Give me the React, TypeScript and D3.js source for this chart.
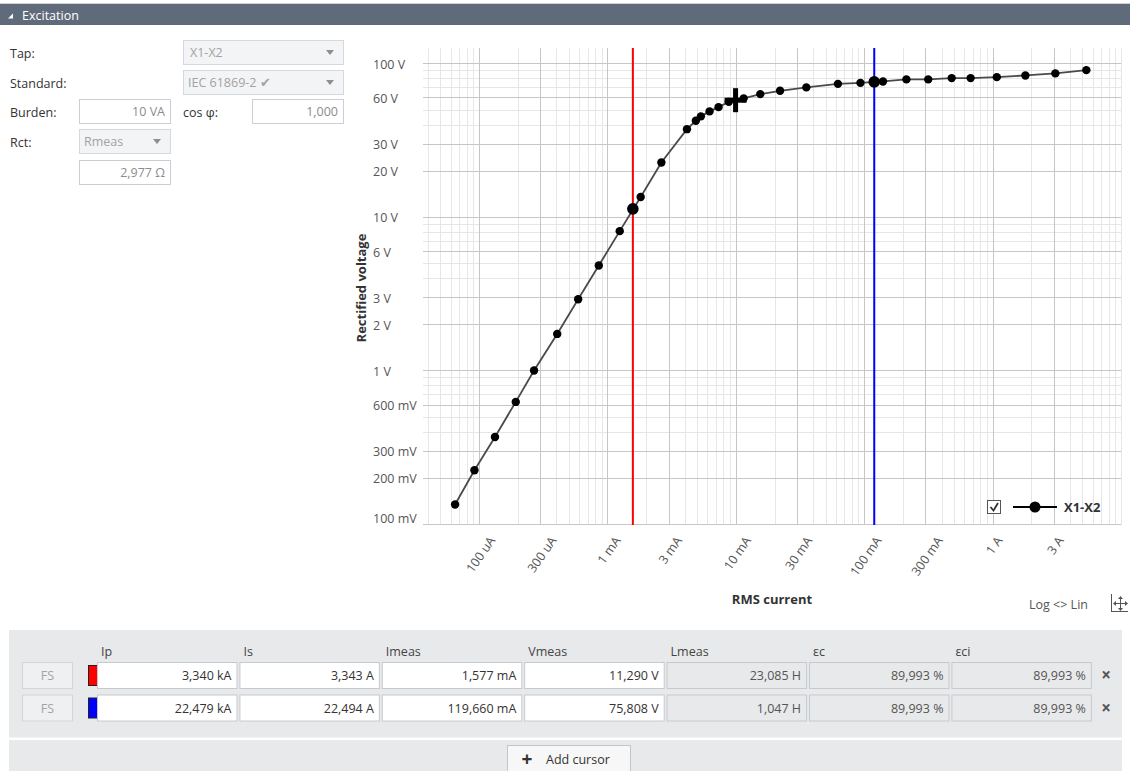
import React, { useEffect, useRef } from 'react';
import * as d3 from 'd3';

// ---- data ----
const currentA = [
  6.5e-5, 9.2e-5, 1.33e-4, 1.93e-4, 2.68e-4, 4.06e-4, 5.91e-4, 8.56e-4, 1.246e-3,
  1.814e-3, 2.63e-3, 4.16e-3, 4.88e-3, 5.34e-3, 6.24e-3, 7.33e-3, 8.81e-3, 1.15e-2,
  1.55e-2, 2.21e-2, 3.54e-2, 6.24e-2, 9.34e-2, 0.140, 0.213, 0.315, 0.480, 0.674,
  1.078, 1.80, 3.08, 5.37,
];
const voltageV = [
  0.134, 0.224, 0.369, 0.624, 1.0, 1.73, 2.91, 4.83, 8.08,
  13.5, 22.6, 37.3, 42.3, 45.2, 48.7, 51.9, 56.2, 59.2,
  63.1, 66.3, 69.8, 73.6, 74.7, 76.3, 78.7, 78.7, 80.2, 80.2,
  81.4, 83.5, 86.1, 90.4,
];
const xTickValues = [1e-4, 3e-4, 1e-3, 3e-3, 1e-2, 3e-2, 1e-1, 3e-1, 1, 3];
const xTickLabels = ['100 uA', '300 uA', '1 mA', '3 mA', '10 mA', '30 mA', '100 mA', '300 mA', '1 A', '3 A'];
const yTickValues = [100, 60, 30, 20, 10, 6, 3, 2, 1, 0.6, 0.3, 0.2, 0.1];
const yTickLabels = ['100 V', '60 V', '30 V', '20 V', '10 V', '6 V', '3 V', '2 V', '1 V', '600 mV', '300 mV', '200 mV', '100 mV'];
const xDomain = [4e-5, 10];
const yDomain = [0.1, 126];
const cursorColors = ['#ff0000', '#0000ff'];
const cursorImeas = [1.577e-3, 0.11966];
const cursorVmeas = [11.29, 75.808];
const kneeCurrent = 0.00995;
const kneeVoltage = 57.6;
const seriesName = 'X1-X2';
const tableHeaders = ['Ip', 'Is', 'Imeas', 'Vmeas', 'Lmeas', 'εc', 'εci'];
const tableRows = [
  ['3,340 kA', '3,343 A', '1,577 mA', '11,290 V', '23,085 H', '89,993 %', '89,993 %'],
  ['22,479 kA', '22,494 A', '119,660 mA', '75,808 V', '1,047 H', '89,993 %', '89,993 %'],
];

const FONT = '"Open Sans", "Noto Sans", sans-serif';
const PLOT = { left: 428, right: 1121, top: 48, bottom: 524 };

function Chart() {
  const ref = useRef<SVGGElement>(null);
  useEffect(() => {
    const g = d3.select(ref.current);
    g.selectAll('*').remove();
    const x = d3.scaleLog().domain(xDomain).range([PLOT.left, PLOT.right]);
    const y = d3.scaleLog().domain(yDomain).range([PLOT.bottom, PLOT.top]);
    const crisp = (v: number) => Math.round(v) + 0.5;

    const xs: { v: number; major: boolean }[] = [];
    for (let n = -5; n <= 1; n++) for (let k = 1; k <= 9; k++) {
      const v = k * Math.pow(10, n);
      if (v >= xDomain[0] * 0.999 && v <= xDomain[1] * 1.001)
        xs.push({ v, major: xTickValues.some((t) => Math.abs(t - v) / v < 1e-6) });
    }
    const ys: { v: number; major: boolean }[] = [];
    for (let n = -1; n <= 2; n++) for (let k = 1; k <= 9; k++) {
      const v = k * Math.pow(10, n);
      if (v >= yDomain[0] * 0.999 && v <= yDomain[1])
        ys.push({ v, major: yTickValues.some((t) => Math.abs(t - v) / v < 1e-6) });
    }
    const grid = g.append('g');
    [false, true].forEach((maj) => {
      grid.selectAll(null).data(xs.filter((d) => d.major === maj)).enter().append('line')
        .attr('x1', (d) => crisp(x(d.v))).attr('x2', (d) => crisp(x(d.v)))
        .attr('y1', PLOT.top).attr('y2', PLOT.bottom + 1)
        .attr('stroke', maj ? '#c6c6c6' : '#e6e6e6').attr('stroke-width', 1);
      grid.selectAll(null).data(ys.filter((d) => d.major === maj)).enter().append('line')
        .attr('x1', PLOT.left - 5).attr('x2', PLOT.right)
        .attr('y1', (d) => crisp(y(d.v))).attr('y2', (d) => crisp(y(d.v)))
        .attr('stroke', maj ? '#c6c6c6' : '#e6e6e6').attr('stroke-width', 1);
    });

    g.append('g').selectAll('text').data(yTickValues).enter().append('text')
      .attr('x', 373).attr('y', (d) => Math.min(y(d) + 1, 518))
      .attr('dominant-baseline', 'central')
      .attr('font-family', FONT).attr('font-size', 12.5).attr('fill', '#555')
      .text((d, i) => yTickLabels[i]);

    const xl = g.append('g');
    xTickValues.forEach((v, i) => {
      const t = xl.append('text')
        .attr('text-anchor', 'middle').attr('dominant-baseline', 'central')
        .attr('font-family', FONT).attr('font-size', 12.5).attr('fill', '#555')
        .text(xTickLabels[i]);
      const w = (t.node() as SVGTextElement).getComputedTextLength();
      const cx = x(v) + 1.5;
      const cy = 538 + 0.41 * w;
      t.attr('transform', `translate(${cx},${cy}) rotate(-55)`);
    });

    cursorImeas.forEach((c, i) => {
      g.append('line').attr('x1', x(c)).attr('x2', x(c)).attr('y1', PLOT.top).attr('y2', PLOT.bottom + 1)
        .attr('stroke', cursorColors[i]).attr('stroke-width', 2);
    });

    const pts = currentA.map((c, i) => [c, voltageV[i]] as [number, number]);
    const line = d3.line<[number, number]>().x((d) => x(d[0])).y((d) => y(d[1]));
    g.append('path').attr('d', line(pts)).attr('fill', 'none').attr('stroke', '#4a4a4a').attr('stroke-width', 1.8);
    g.append('g').selectAll('circle').data(pts).enter().append('circle')
      .attr('cx', (d) => x(d[0])).attr('cy', (d) => y(d[1])).attr('r', 4.2).attr('fill', '#000');

    cursorImeas.forEach((c, i) => {
      g.append('circle').attr('cx', x(c)).attr('cy', y(cursorVmeas[i])).attr('r', 5.8).attr('fill', '#000');
    });

    const kx = x(kneeCurrent), ky = y(kneeVoltage);
    g.append('rect').attr('x', kx - 2.5).attr('y', ky - 12).attr('width', 5).attr('height', 24).attr('fill', '#000');
    g.append('rect').attr('x', kx - 11).attr('y', ky - 2.5).attr('width', 22).attr('height', 5).attr('fill', '#000');

    g.append('text').attr('transform', 'translate(361,288) rotate(-90)')
      .attr('text-anchor', 'middle').attr('dominant-baseline', 'central')
      .attr('font-family', FONT).attr('font-size', 13).attr('font-weight', 'bold').attr('fill', '#333')
      .text('Rectified voltage');
    g.append('text').attr('x', 772).attr('y', 604).attr('text-anchor', 'middle')
      .attr('font-family', FONT).attr('font-size', 13).attr('font-weight', 'bold').attr('fill', '#333')
      .text('RMS current');
  }, []);
  return <g ref={ref} />;
}

function Dropdown({ x, y, w, text, tx }: { x: number; y: number; w: number; text: string; tx: number }) {
  const ax = x + w - 17;
  return (
    <g>
      <rect x={x + 0.5} y={y + 0.5} width={w} height={24} fill="#f3f4f5" stroke="#d5d8dc" />
      <text x={tx} y={y + 17} fontFamily={FONT} fontSize={12.5} fill="#a3a3a3">{text}</text>
      <polygon points={`${ax},${y + 10} ${ax + 8},${y + 10} ${ax + 4},${y + 15}`} fill="#8e8e8e" />
    </g>
  );
}

function Input({ x, y, w, h, text }: { x: number; y: number; w: number; h: number; text: string }) {
  return (
    <g>
      <rect x={x + 0.5} y={y + 0.5} width={w} height={h} fill="#fff" stroke="#cbcfd4" />
      <text x={x + w - 5} y={y + 17} textAnchor="end" fontFamily={FONT} fontSize={12.5} fill="#8c8c8c">{text}</text>
    </g>
  );
}

export default function App() {
  const label = { fontFamily: FONT, fontSize: 12.5, fill: '#333' } as const;
  const colX = (i: number) => 97 + i * 142.4;
  const rowY = [662, 694.5];
  return (
    <svg width={1130} height={771} style={{ position: 'absolute', left: 0, top: 0, background: '#fff' }}>
      <rect x={0} y={3} width={1130} height={1} fill="#cdd1d6" />
      <rect x={0} y={4} width={1130} height={21} fill="#5f6b7b" />
      <polygon points="8,18.5 13,18.5 13,13.5" fill="#fff" />
      <text x={22} y={19.5} fontFamily={FONT} fontSize={12.5} fill="#fff">Excitation</text>

      <text x={10} y={58} {...label}>Tap:</text>
      <text x={10} y={88} {...label}>Standard:</text>
      <text x={10} y={117} {...label}>Burden:</text>
      <text x={10} y={147} {...label}>Rct:</text>
      <text x={183} y={117} {...label}>cos φ:</text>
      <Dropdown x={183} y={40} w={160} text="X1-X2" tx={190} />
      <Dropdown x={183} y={70} w={160} text="IEC 61869-2 ✔" tx={188} />
      <Input x={79} y={99} w={91} h={24} text="10 VA" />
      <Input x={252} y={99} w={91} h={24} text="1,000" />
      <Dropdown x={79} y={129} w={91} text="Rmeas" tx={84} />
      <Input x={79} y={160} w={91} h={24} text="2,977 Ω" />

      <Chart />

      <rect x={987.5} y={500.5} width={13} height={13} fill="#fff" stroke="#555" />
      <polyline points="990.5,507 993.5,510.5 998,503" fill="none" stroke="#333" strokeWidth={1.8} />
      <line x1={1013} x2={1057} y1={507} y2={507} stroke="#000" strokeWidth={2} />
      <circle cx={1035} cy={507} r={5.5} fill="#000" />
      <text x={1064} y={511.5} fontFamily={FONT} fontSize={13} fontWeight="bold" fill="#333">{seriesName}</text>

      <text x={1029} y={609} fontFamily={FONT} fontSize={12.5} fill="#555">{'Log <> Lin'}</text>
      <line x1={1111.5} x2={1111.5} y1={594} y2={612} stroke="#555" strokeWidth={1} />
      <line x1={1111} x2={1128} y1={611.5} y2={611.5} stroke="#555" strokeWidth={1} />
      <line x1={1120.5} x2={1120.5} y1={597} y2={609} stroke="#555" strokeWidth={1} />
      <line x1={1114} x2={1127} y1={603.5} y2={603.5} stroke="#555" strokeWidth={1} />
      <polygon points="1118,599 1123,599 1120.5,596" fill="#555" />
      <polygon points="1118,608 1123,608 1120.5,611" fill="#555" />
      <polygon points="1116,601 1116,606 1113,603.5" fill="#555" />
      <polygon points="1125,601 1125,606 1128,603.5" fill="#555" />

      <rect x={9} y={630} width={1113} height={107.5} fill="#e8e9eb" />
      <rect x={9} y={740} width={1113} height={31} fill="#e8e9eb" />
      {tableHeaders.map((h, i) => (
        <text key={h} x={colX(i) + 4} y={655.5} fontFamily={FONT} fontSize={12.5} fill="#444">{h}</text>
      ))}
      {tableRows.map((row, r) => (
        <g key={r}>
          <rect x={22.5} y={rowY[r] + 0.5} width={50} height={26} fill="#eff0f1" stroke="#d2d5d9" />
          <text x={47.5} y={rowY[r] + 18} textAnchor="middle" fontFamily={FONT} fontSize={12.5} fill="#a3a3a3">FS</text>
          <rect x={88.5} y={rowY[r] + 3.5} width={9} height={20} fill={cursorColors[r]} stroke="#222" />
          {row.map((v, i) => (
            <g key={i}>
              <rect x={colX(i) + 0.5} y={rowY[r] + 0.5} width={139.5} height={26}
                fill={i < 4 ? '#fff' : '#e8e9eb'} stroke="#c6cacf" />
              <text x={colX(i) + 134.5} y={rowY[r] + 18} textAnchor="end" fontFamily={FONT} fontSize={12.5}
                fill={i < 4 ? '#333' : '#555'}>{v}</text>
            </g>
          ))}
          <text x={1106} y={rowY[r] + 19} textAnchor="middle" fontFamily={FONT} fontSize={17} fontWeight="bold" fill="#555">×</text>
        </g>
      ))}
      <rect x={507.5} y={745.5} width={123} height={30} fill="#f7f7f7" stroke="#c2c5c9" />
      <text x={527} y={765.5} textAnchor="middle" fontFamily={FONT} fontSize={19} fontWeight="bold" fill="#333">+</text>
      <text x={546} y={764} fontFamily={FONT} fontSize={12.5} fill="#333">Add cursor</text>
    </svg>
  );
}
